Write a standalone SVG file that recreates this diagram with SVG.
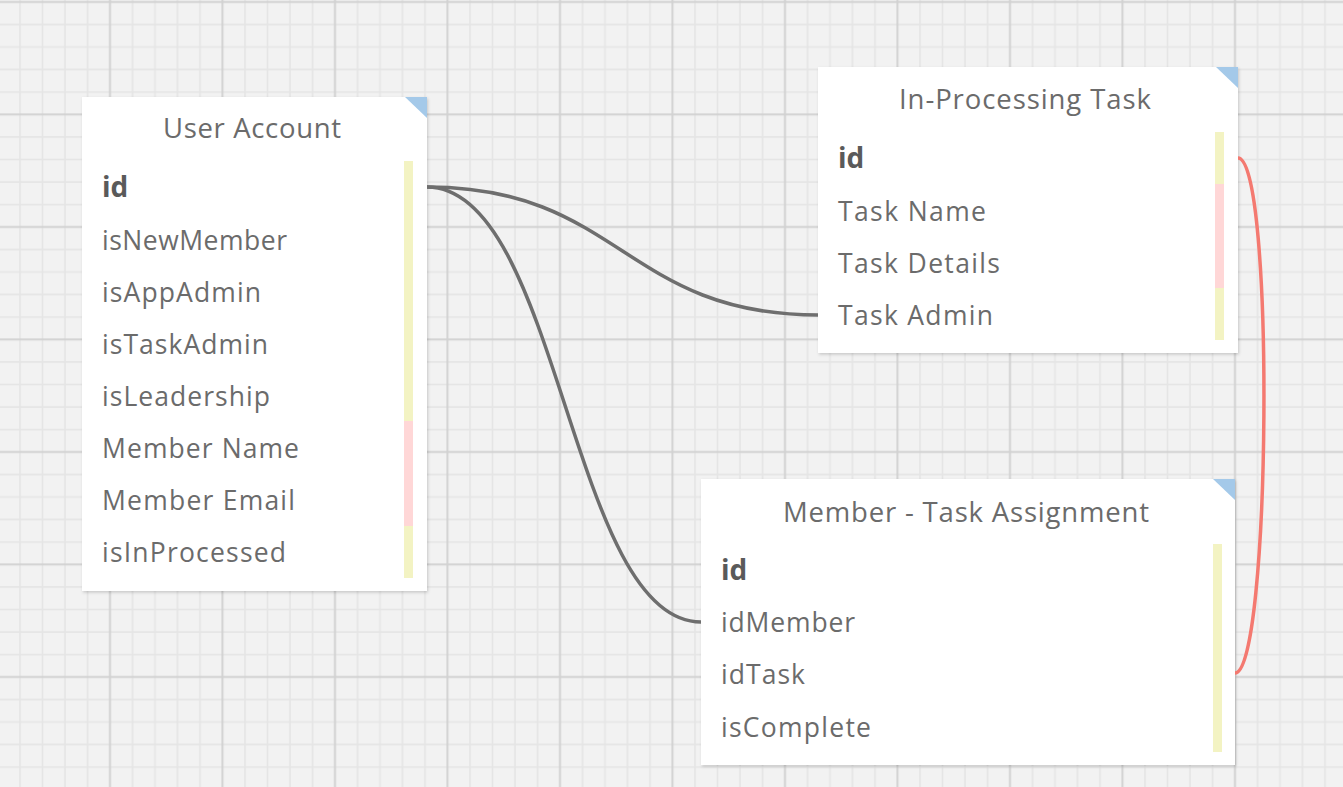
<svg xmlns="http://www.w3.org/2000/svg" width="1343" height="787" viewBox="0 0 1343 787">
<style>
.title{font-family:"Open Sans","Noto Sans",sans-serif;font-size:27.5px;fill:#6b6b6b;text-anchor:middle}
.f{font-family:"Open Sans","Noto Sans",sans-serif;font-size:26.5px;fill:#6b6b6b}
.pk{font-weight:bold;fill:#5a5a5a;font-size:28px}
.card{fill:#ffffff;filter:url(#sh)}
.corner{fill:#a4c9e9}
.y{fill:#f3f3c3}
.p{fill:#ffd7d7}
.conn{fill:none;stroke:#6e6e6e;stroke-width:3.5}
.rel{fill:none;stroke:#f47970;stroke-width:3.5}
</style>
<defs>
<pattern id="grid" patternUnits="userSpaceOnUse" x="-13.75" y="-9.25" width="112.5" height="112.5">
<rect width="112.5" height="112.5" fill="#f2f2f2"/>
<g stroke="#e5e5e5" stroke-width="1.6">
<line x1="33.75" y1="0" x2="33.75" y2="112.5"/>
<line x1="56.25" y1="0" x2="56.25" y2="112.5"/>
<line x1="78.75" y1="0" x2="78.75" y2="112.5"/>
<line x1="101.25" y1="0" x2="101.25" y2="112.5"/>
<line y1="33.75" x1="0" y2="33.75" x2="112.5"/>
<line y1="56.25" x1="0" y2="56.25" x2="112.5"/>
<line y1="78.75" x1="0" y2="78.75" x2="112.5"/>
<line y1="101.25" x1="0" y2="101.25" x2="112.5"/>
</g>
<g stroke="#d2d2d2" stroke-width="2">
<line x1="11.25" y1="0" x2="11.25" y2="112.5"/>
<line y1="11.25" x1="0" y2="11.25" x2="112.5"/>
</g>
</pattern>
<filter id="sh" x="-5%" y="-5%" width="110%" height="110%">
<feDropShadow dx="1" dy="1.5" stdDeviation="1.5" flood-color="#000" flood-opacity="0.18"/>
</filter>
</defs>
<rect width="1343" height="787" fill="url(#grid)"/>

<g id="user-account">
<rect class="card" x="82" y="97" width="345" height="494"/>
<polygon class="corner" points="405,97 427,97 427,118"/>
<rect class="y" x="404" y="161" width="9" height="260"/>
<rect class="p" x="404" y="421" width="9" height="105"/>
<rect class="y" x="404" y="526" width="9" height="52"/>
<text class="title" x="252" y="138" textLength="178" lengthAdjust="spacing">User Account</text>
<text class="f pk" x="102" y="196.5">id</text>
<text class="f" x="102" y="249.5" textLength="185" lengthAdjust="spacing">isNewMember</text>
<text class="f" x="102" y="301.5" textLength="159" lengthAdjust="spacing">isAppAdmin</text>
<text class="f" x="102" y="353.5" textLength="166" lengthAdjust="spacing">isTaskAdmin</text>
<text class="f" x="102" y="405.5" textLength="168" lengthAdjust="spacing">isLeadership</text>
<text class="f" x="102" y="457.5" textLength="197" lengthAdjust="spacing">Member Name</text>
<text class="f" x="102" y="509.5" textLength="193" lengthAdjust="spacing">Member Email</text>
<text class="f" x="102" y="561.5" textLength="184" lengthAdjust="spacing">isInProcessed</text>
</g>

<g id="in-processing-task">
<rect class="card" x="818" y="67" width="420" height="286"/>
<polygon class="corner" points="1216,67 1238,67 1238,88"/>
<rect class="y" x="1215" y="132" width="9" height="52"/>
<rect class="p" x="1215" y="184" width="9" height="104"/>
<rect class="y" x="1215" y="288" width="9" height="52"/>
<text class="title" x="1025" y="109" textLength="252" lengthAdjust="spacing">In-Processing Task</text>
<text class="f pk" x="838" y="167.5">id</text>
<text class="f" x="838" y="220.5" textLength="148" lengthAdjust="spacing">Task Name</text>
<text class="f" x="838" y="272.5" textLength="162" lengthAdjust="spacing">Task Details</text>
<text class="f" x="838" y="324.5" textLength="155" lengthAdjust="spacing">Task Admin</text>
</g>

<g id="member-task-assignment">
<rect class="card" x="701" y="479" width="534" height="286"/>
<polygon class="corner" points="1213,479 1235,479 1235,500"/>
<rect class="y" x="1213" y="544" width="9" height="208"/>
<text class="title" x="966" y="522" textLength="366" lengthAdjust="spacing">Member - Task Assignment</text>
<text class="f pk" x="721" y="579.5">id</text>
<text class="f" x="721" y="631.5" textLength="134" lengthAdjust="spacing">idMember</text>
<text class="f" x="721" y="683.5" textLength="84" lengthAdjust="spacing">idTask</text>
<text class="f" x="721" y="736.5" textLength="150" lengthAdjust="spacing">isComplete</text>
</g>

<g id="connectors">
<path class="conn" d="M427,187 C620,187 625,315 818,315"/>
<path class="conn" d="M427,187 C560,187 570,622 701,622"/>
<path class="rel" d="M1238,158 C1275,158 1271,673 1235,673"/>
</g>
</svg>
